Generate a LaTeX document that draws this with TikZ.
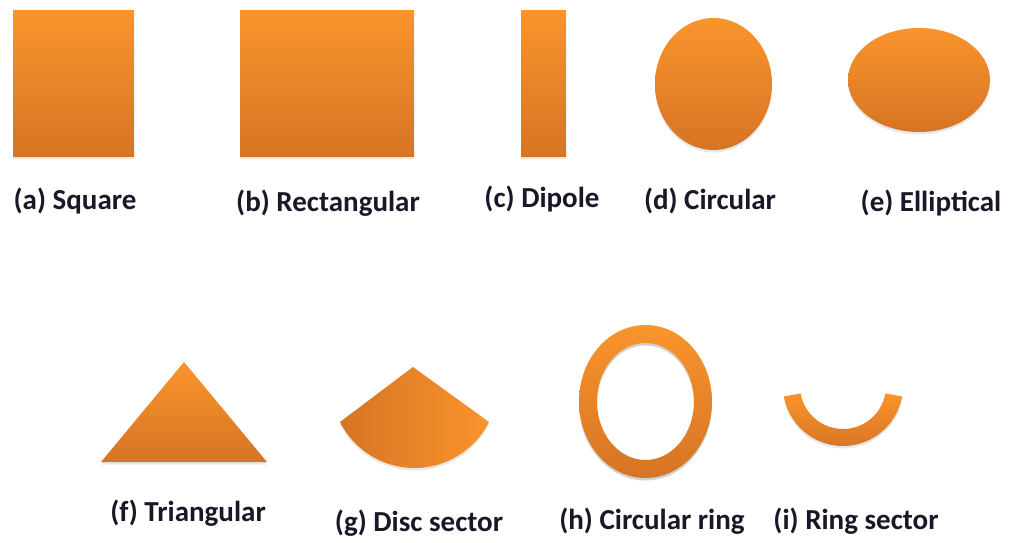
\documentclass[tikz,border=0pt]{standalone}
\usepackage{fontspec}
\setmainfont{Carlito}
\usetikzlibrary{shadows}
\definecolor{orTop}{RGB}{250,148,44}
\definecolor{orBot}{RGB}{214,116,36}
\definecolor{txt}{RGB}{24,24,40}
\tikzset{
  plainpatch/.style={top color=orTop, bottom color=orBot, draw=none},
  patch/.style={plainpatch,
    drop shadow={opacity=0.18, shadow xshift=0pt, shadow yshift=-2.5pt}},
  hpatch/.style={left color=orBot, right color=orTop, draw=none,
    drop shadow={opacity=0.18, shadow xshift=0pt, shadow yshift=-2.5pt}},
  lbl/.style={text=txt, font=\bfseries\fontsize{29}{34}\selectfont, inner sep=0pt}
}
\begin{document}
\begin{tikzpicture}[x=1pt,y=1pt]
\useasboundingbox[fill=white] (0,0) rectangle (1010,542);
% row 1
\path[patch] (13,385) rectangle (134,531);
\path[patch] (240,385) rectangle (414,531);
\path[patch] (521,385) rectangle (566,531);
\path[patch] (713.5,458) ellipse[x radius=58.5, y radius=66];
\path[patch] (919,462) ellipse[x radius=71, y radius=52];
\node[lbl] (la) at (75,341) {(a) Square};
\node[lbl] (lb) at (328,339) {(b) Rectangular};
\node[lbl] (lc) at (542,343) {(c) Dipole};
\node[lbl] (ld) at (710,341) {(d) Circular};
\node[lbl] (le) at (931,339) {(e) Elliptical};
% row 2
\path[patch] (101,80) -- (184,180) -- (267,80) -- cycle;
\path[hpatch] (413,175) -- ([shift={(414.5,157.3)}]206.6:83.3)
   arc[start angle=206.6, end angle=333.4, radius=83.3] -- cycle;
\fill[black, opacity=0.18, even odd rule] (645.5,138) ellipse[x radius=66.5, y radius=76.5]
   (645.5,138) ellipse[x radius=48.5, y radius=58.5];
\path[plainpatch, even odd rule] (645.5,140.5) ellipse[x radius=66.5, y radius=76.5]
   (645.5,140.5) ellipse[x radius=48.5, y radius=58.5];
\path[patch] ([shift={(843,156)}]190:60) arc[start angle=190, end angle=350, radius=60]
   -- ([shift={(843,156)}]350:43) arc[start angle=350, end angle=190, radius=43] -- cycle;
\node[lbl] (lf) at (188,29) {(f) Triangular};
\node[lbl] (lg) at (419,19) {(g) Disc sector};
\node[lbl] (lh) at (652,21) {(h) Circular ring};
\node[lbl] (li) at (856,21) {(i) Ring sector};
\end{tikzpicture}
\end{document}
